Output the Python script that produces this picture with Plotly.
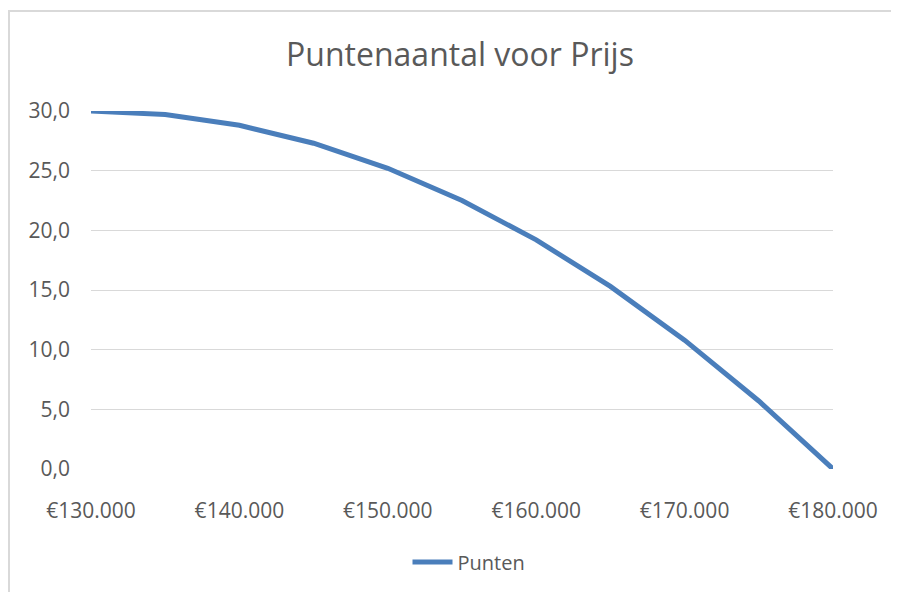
import plotly.graph_objects as go

prijs = [130000, 135000, 140000, 145000, 150000, 155000, 160000, 165000, 170000, 175000, 180000]
punten = [30.0, 29.7, 28.8, 27.3, 25.2, 22.5, 19.2, 15.3, 10.8, 5.7, 0.0]
x_ticks = [130000, 140000, 150000, 160000, 170000, 180000]
y_ticks = [0, 5, 10, 15, 20, 25, 30]

x_labels = ["\u20ac" + f"{v:,}".replace(",", ".") for v in x_ticks]

TXT = "#595959"
FONT = "Open Sans"

# page has 8px body offset; layout numbers below are in figure coordinates
L, R, T, B = 83, 825, 103, 461
W, H = 899, 592
PW, PH = R - L, B - T

fig = go.Figure()
fig.add_trace(go.Scatter(
    x=prijs, y=punten, mode="lines", name="Punten",
    line=dict(color="#4a7ebb", width=5),
))

fig.update_layout(
    width=W, height=H,
    paper_bgcolor="white", plot_bgcolor="white",
    separators=",.",
    margin=dict(l=L, r=W - R, t=T, b=H - B),
    title=dict(text="Puntenaantal voor Prijs", x=452 / W, xanchor="center",
               y=1 - 47 / H, yanchor="middle",
               font=dict(family=FONT, size=32, color=TXT)),
    font=dict(family=FONT, color=TXT),
    showlegend=True,
    legend=dict(orientation="h", x=0.5 + 7 / PW, xanchor="center", y=-(554 - B) / PH, yanchor="middle",
                font=dict(family=FONT, size=20, color=TXT), itemwidth=40),
    xaxis=dict(range=[130000, 180000], tickvals=x_ticks, ticktext=x_labels,
               showgrid=False, zeroline=False, showline=False, ticks="",
               tickfont=dict(family=FONT, size=21, color=TXT), ticklabelstandoff=27),
    yaxis=dict(range=[0, 30], tickvals=y_ticks, tickformat=".1f",
               showgrid=True, gridcolor="#d9d9d9", gridwidth=1, zeroline=False,
               showline=False, ticks="",
               tickfont=dict(family=FONT, size=21, color=TXT), ticklabelstandoff=20),
)

fig.add_shape(type="rect", xref="paper", yref="paper",
              x0=(1 - L) / PW, x1=(915 - L) / PW,
              y0=-(600 - B) / PH, y1=1 + (T - 3) / PH,
              line=dict(color="#d9d9d9", width=2), layer="below")

fig.write_html("out.html")
